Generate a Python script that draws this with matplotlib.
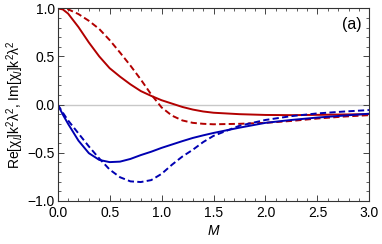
import matplotlib
matplotlib.use("Agg")
import matplotlib.pyplot as plt
from matplotlib.ticker import MultipleLocator

# values
M = [0.0, 0.05, 0.1, 0.2, 0.3, 0.4, 0.5, 0.6, 0.7, 0.8, 0.9, 1.0, 1.1, 1.2, 1.3, 1.4, 1.5,
     1.75, 2.0, 2.25, 2.5, 2.75, 3.0]
re_solid = [1.0, 0.988, 0.945, 0.805, 0.645, 0.50, 0.378, 0.29, 0.21, 0.14, 0.09, 0.045, 0.01,
            -0.025, -0.052, -0.072, -0.085, -0.10, -0.108, -0.11, -0.107, -0.103, -0.10]
re_dash = [1.0, 0.998, 0.99, 0.94, 0.87, 0.785, 0.67, 0.54, 0.405, 0.26, 0.105, -0.03, -0.115,
           -0.165, -0.19, -0.20, -0.205, -0.20, -0.19, -0.17, -0.145, -0.125, -0.11]
im_solid = [0.0, -0.105, -0.20, -0.375, -0.505, -0.575, -0.598, -0.593, -0.565, -0.525, -0.49,
            -0.45, -0.415, -0.38, -0.347, -0.32, -0.295, -0.24, -0.19, -0.16, -0.135, -0.115, -0.095]
im_dash = [0.0, -0.085, -0.165, -0.30, -0.435, -0.56, -0.675, -0.755, -0.798, -0.805, -0.785,
           -0.72, -0.625, -0.54, -0.47, -0.39, -0.325, -0.22, -0.16, -0.12, -0.092, -0.073, -0.057]

red = "#b20000"
blue = "#0000b2"

plt.rcParams["font.family"] = ["Liberation Sans", "DejaVu Sans"]
plt.rcParams["mathtext.fontset"] = "custom"
plt.rcParams["mathtext.rm"] = "Liberation Sans"
plt.rcParams["mathtext.it"] = "Liberation Sans:italic"

fig = plt.figure(figsize=(3.82, 2.44), dpi=100)
ax = fig.add_axes([0.151, 0.177, 0.816, 0.789])

ax.axhline(0, color="#c8c8c8", lw=1.0, zorder=1)
lw = 1.4
ax.plot(M, re_solid, color=red, lw=lw)
ax.plot(M, re_dash, color=red, lw=lw, ls=(0, (3.2, 1.7)))
ax.plot(M, im_solid, color=blue, lw=lw)
ax.plot(M, im_dash, color=blue, lw=lw, ls=(0, (3.2, 1.7)))

ax.set_xlim(0, 3)
ax.set_ylim(-1, 1)
ax.xaxis.set_major_locator(MultipleLocator(0.5))
ax.xaxis.set_minor_locator(MultipleLocator(0.1))
ax.yaxis.set_major_locator(MultipleLocator(0.5))
ax.yaxis.set_minor_locator(MultipleLocator(0.1))
fmt = plt.FuncFormatter(lambda v, p: f"{v:.1f}".replace("-", "\u2212"))
ax.xaxis.set_major_formatter(fmt)
ax.yaxis.set_major_formatter(fmt)
ax.tick_params(which="both", direction="in", top=True, right=True, labelsize=10,
               color="#444444", pad=2)
ax.tick_params(axis="x", which="major", pad=3.5)
ax.tick_params(which="major", length=4, width=0.7)
ax.tick_params(which="minor", length=2, width=0.6)
for s in ax.spines.values():
    s.set_color("#333333")
    s.set_linewidth(0.8)

ax.set_xlabel("$\\it{M}$", fontsize=10, labelpad=3)
ax.set_ylabel("Re[\u03c7$_{\\it{l}}$]k$^2$\u03bb$^2$, Im[\u03c7$_{\\it{l}}$]k$^2$\u03bb$^2$",
              fontsize=10, labelpad=1)
ax.text(2.83, 0.83, "(a)", fontsize=11.5, ha="center", va="center")

fig.savefig("out.png", dpi=100)
